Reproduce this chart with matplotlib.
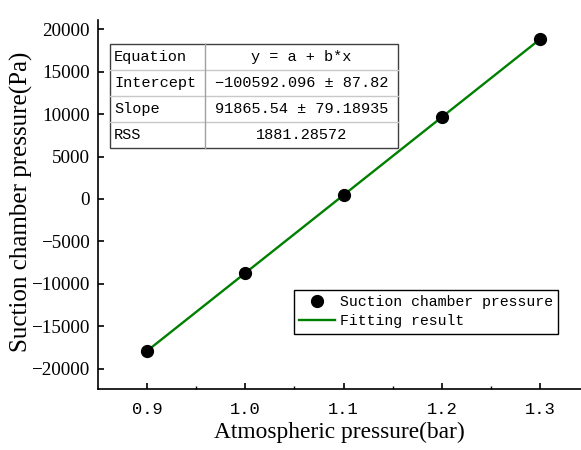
import matplotlib
matplotlib.use("Agg")
import matplotlib.pyplot as plt
import numpy as np

x_vals = [0.9, 1.0, 1.1, 1.2, 1.3]
y_vals = [-17900, -8700, 450, 9660, 18840]
intercept = -100592.096
slope = 91865.54
x_ticks = [0.9, 1.0, 1.1, 1.2, 1.3]
x_ticklabels = ["0.9", "1.0", "1.1", "1.2", "1.3"]
y_ticks = [-20000, -15000, -10000, -5000, 0, 5000, 10000, 15000, 20000]
table_rows = [["Equation", "y = a + b*x"],
              ["Intercept", "\u2212100592.096 \u00b1 87.82"],
              ["Slope", "91865.54 \u00b1 79.18935"],
              ["RSS", "1881.28572"]]

W, H = 581, 450
fig = plt.figure(figsize=(W/100, H/100), dpi=100)
ax = fig.add_axes([98/W, 1-389/H, 1-98/W, (389-20)/H])

fit_x = np.array([x_vals[0], x_vals[-1]])
ax.plot(x_vals, y_vals, 'o', color='black', markersize=8.5, label='Suction chamber pressure', zorder=3)
ax.plot(fit_x, intercept + slope*fit_x, '-', color='#008000', lw=1.7, label='Fitting result', zorder=2)

ax.set_xlim(0.8501, 1.3417)
ax.set_ylim(-22400, 21100)
for s in ['top', 'right']:
    ax.spines[s].set_visible(False)
for s in ['left', 'bottom']:
    ax.spines[s].set_linewidth(1.2)

ax.set_xticks(x_ticks)
ax.set_xticklabels(x_ticklabels, fontfamily='Liberation Mono', fontsize=12.3)
ax.set_xticks([0.95, 1.05, 1.15, 1.25], minor=True)
ax.set_yticks(y_ticks)
ax.set_yticklabels([f"{v}".replace('-', '\u2212') for v in y_ticks], fontfamily='Liberation Serif', fontsize=13.8)
ax.tick_params(axis='both', which='major', direction='in', length=4, width=1.2)
ax.tick_params(axis='x', which='major', pad=9)
ax.tick_params(axis='y', which='major', pad=6)
ax.tick_params(axis='x', which='minor', direction='in', length=2.5, width=1.0)

ax.set_xlabel('Atmospheric pressure(bar)', fontfamily='Liberation Serif', fontsize=16.8, labelpad=4)
ax.set_ylabel('Suction chamber pressure(Pa)', fontfamily='Liberation Serif', fontsize=18, labelpad=0)
ax.yaxis.set_label_coords(-0.134, 0.508)

leg = ax.legend(loc='upper left', bbox_to_anchor=((294-98)/(W-98), (389-290)/(389-20)),
                prop={'family': 'Liberation Mono', 'size': 10.7}, frameon=True, fancybox=False,
                edgecolor='black', framealpha=1, borderpad=0.35, handlelength=2.4,
                handletextpad=0.35, labelspacing=0.35, borderaxespad=0)
leg.get_frame().set_linewidth(1.0)

# table
tx0, tx1, tmid = 110, 398, 205
ty0, ty1 = 44, 148
def fx(px): return px / W
def fy(py): return 1 - py / H
row_h = (ty1 - ty0) / len(table_rows)
for i in range(1, len(table_rows)):
    yy = ty0 + i*row_h
    fig.add_artist(plt.Line2D([fx(tx0), fx(tx1)], [fy(yy), fy(yy)], color='#c8c8c8', lw=1.0))
fig.add_artist(plt.Line2D([fx(tmid), fx(tmid)], [fy(ty0), fy(ty1)], color='#a0a0a0', lw=1.0))
fig.add_artist(plt.Rectangle((fx(tx0), fy(ty1)), fx(tx1)-fx(tx0), fy(ty0)-fy(ty1),
                             fill=True, facecolor='white', edgecolor='#404040', lw=1.0, zorder=0.5))
for i, (a, b) in enumerate(table_rows):
    yc = ty0 + (i+0.5)*row_h
    fig.text(fx(tx0+4), fy(yc), a, ha='left', va='center', fontfamily='Liberation Mono', fontsize=11)
    fig.text(fx((tmid+tx1)/2), fy(yc), b, ha='center', va='center', fontfamily='Liberation Mono', fontsize=11)

fig.savefig('out.png', dpi=100)
